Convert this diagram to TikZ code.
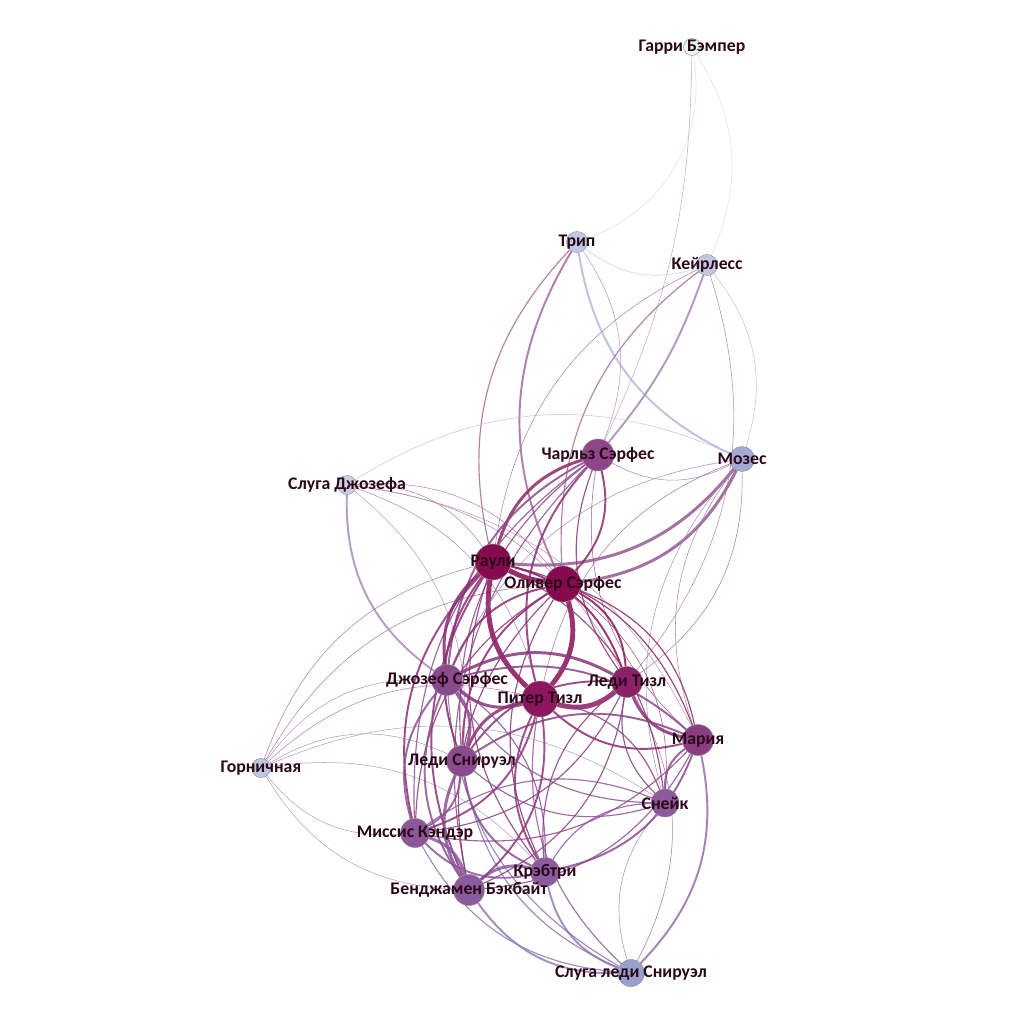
\documentclass[tikz,border=0pt]{standalone}
\usepackage{fontspec}
\setmainfont{Carlito}
\usepackage{tikz}
\pgfdeclarelayer{edges}
\pgfsetlayers{edges,main}

\definecolor{labc}{HTML}{2A0818}
\definecolor{crau}{HTML}{880A4E}
\definecolor{coli}{HTML}{880A4E}
\definecolor{cpit}{HTML}{8E1660}
\definecolor{clt}{HTML}{8B2268}
\definecolor{ccharl}{HTML}{8E4688}
\definecolor{cmar}{HTML}{8C3C80}
\definecolor{cjoz}{HTML}{8A4A8E}
\definecolor{cls}{HTML}{8A4A8E}
\definecolor{cmk}{HTML}{8C5698}
\definecolor{cben}{HTML}{8C5A9E}
\definecolor{ckre}{HTML}{8C5A9E}
\definecolor{csne}{HTML}{8C5A9C}
\definecolor{cmoz}{HTML}{A4AAD6}
\definecolor{csls}{HTML}{98A0CE}
\definecolor{ctrip}{HTML}{C2C8E2}
\definecolor{ckeir}{HTML}{C2C8E2}
\definecolor{cslj}{HTML}{C8CEE6}
\definecolor{cgor}{HTML}{BEC6E2}
\definecolor{cgarri}{HTML}{E6F4F2}

\begin{document}
\begin{tikzpicture}[x=0.02cm,y=-0.02cm,
  dot/.style={circle,draw=black!45,line width=0.25pt,inner sep=0pt,minimum size=#1},
  lab/.style={font=\bfseries\fontsize{10.1}{12}\selectfont,text=labc,inner sep=0pt},
  every edge/.style={draw,bend right=28,draw opacity=0.85},
  w0/.style={line width=0.3pt},
  w1/.style={line width=0.65pt},
  w2/.style={line width=1.1pt},
  w3/.style={line width=1.7pt},
  w4/.style={line width=2.8pt}]

  \useasboundingbox (0,0) rectangle (1024,1024);

  \node[dot=0.34cm, fill=cgarri] (garri) at (692,47)  {};
  \node[dot=0.42cm, fill=ctrip]  (trip)  at (577,242) {};
  \node[dot=0.42cm, fill=ckeir]  (keir)  at (707,265) {};
  \node[dot=0.64cm, fill=ccharl] (charl) at (598,455) {};
  \node[dot=0.50cm, fill=cmoz]   (moz)   at (742,459) {};
  \node[dot=0.38cm, fill=cslj]   (slj)   at (347,485) {};
  \node[dot=0.72cm, fill=crau]   (rau)   at (493,562) {};
  \node[dot=0.72cm, fill=coli]   (oli)   at (563,584) {};
  \node[dot=0.62cm, fill=cjoz]   (joz)   at (447,680) {};
  \node[dot=0.72cm, fill=cpit]   (pit)   at (540,699) {};
  \node[dot=0.62cm, fill=clt]    (lt)    at (627,682) {};
  \node[dot=0.62cm, fill=cmar]   (mar)   at (698,740) {};
  \node[dot=0.62cm, fill=cls]    (ls)    at (462,761) {};
  \node[dot=0.38cm, fill=cgor]   (gor)   at (261,768) {};
  \node[dot=0.56cm, fill=csne]   (sne)   at (665,803) {};
  \node[dot=0.58cm, fill=cmk]    (mk)    at (415,833) {};
  \node[dot=0.58cm, fill=ckre]   (kre)   at (545,872) {};
  \node[dot=0.62cm, fill=cben]   (ben)   at (469,890) {};
  \node[dot=0.54cm, fill=csls]   (sls)   at (631,973) {};

  \begin{pgfonlayer}{edges}
  \fill[white] (0,0) rectangle (1024,1024);
  \path (trip)  edge[w0, bend right=40, draw=ctrip!50!cgarri] (garri)
        (keir)  edge[w0, draw=ckeir!50!cgarri] (garri)
        (charl) edge[w0, bend right=12, draw=ccharl!50!cgarri] (garri)
        (trip)  edge[w0, draw=ctrip!50!ckeir] (keir)
        (trip)  edge[w2, draw=ctrip!50!cmoz] (moz)
        (trip)  edge[w1, draw=ctrip!50!crau] (rau)
        (trip)  edge[w2, draw=ctrip!50!coli] (oli)
        (charl) edge[w0, draw=ccharl!50!ctrip] (trip)
        (moz)   edge[w0, draw=cmoz!50!ckeir] (keir)
        (charl) edge[w2, bend right=10, draw=ccharl!50!ckeir] (keir)
        (keir)  edge[w0, draw=ckeir!50!crau] (rau)
        (keir)  edge[w1, draw=ckeir!50!coli] (oli)
        (lt)    edge[w0, draw=clt!50!ckeir] (keir)
        (moz)   edge[w0, draw=cmoz!50!cslj] (slj)
        (rau)   edge[w3, draw=crau!50!cmoz] (moz)
        (oli)   edge[w3, draw=coli!50!cmoz] (moz)
        (charl) edge[w0, draw=ccharl!50!cmoz] (moz)
        (moz)   edge[w0, draw=cmoz!50!cmar] (mar)
        (moz)   edge[w0, draw=cmoz!50!csne] (sne)
        (lt)    edge[w0, draw=clt!50!cmoz] (moz)
        (moz)   edge[w0, draw=cmoz!50!cpit] (pit)
        (moz)   edge[w0, draw=cmoz!50!cjoz] (joz)
        (rau)   edge[w0, draw=crau!50!cslj] (slj)
        (oli)   edge[w0, draw=coli!50!cslj] (slj)
        (pit)   edge[w0, draw=cpit!50!cslj] (slj)
        (lt)    edge[w0, draw=clt!50!cslj] (slj)
        (ls)    edge[w0, draw=cls!50!cslj] (slj)
        (mar)   edge[w0, draw=cmar!50!cslj] (slj)
        (slj)   edge[w2, draw=cslj!50!cjoz] (joz)
        (rau)   edge[w0, draw=crau!50!cgor] (gor)
        (oli)   edge[w0, draw=coli!50!cgor] (gor)
        (joz)   edge[w0, draw=cjoz!50!cgor] (gor)
        (ls)    edge[w0, draw=cls!50!cgor] (gor)
        (pit)   edge[w0, draw=cpit!50!cgor] (gor)
        (sne)   edge[w0, draw=csne!50!cgor] (gor)
        (kre)   edge[w0, draw=ckre!50!cgor] (gor)
        (gor)   edge[w0, draw=cgor!50!cben] (ben)
        (gor)   edge[w0, draw=cgor!50!cmk] (mk)
        (sls)   edge[w2, draw=csls!50!cmar] (mar)
        (sne)   edge[w0, draw=csne!50!csls] (sls)
        (ben)   edge[w2, draw=cben!50!csls] (sls)
        (kre)   edge[w2, draw=ckre!50!csls] (sls)
        (mk)    edge[w1, draw=cmk!50!csls] (sls)
        (ls)    edge[w1, draw=cls!50!csls] (sls)
        (joz)   edge[w1, draw=cjoz!50!csls] (sls)
        (pit)   edge[w1, draw=cpit!50!csls] (sls)
        (sls)   edge[w0, draw=csls!50!clt] (lt);
  \path (rau)   edge[w4, bend right=10, draw=crau] (oli)
        (rau)   edge[w4, draw=crau!50!cpit] (pit)
        (pit)   edge[w4, draw=cpit!50!coli] (oli)
        (pit)   edge[w4, draw=cpit!50!clt] (lt)
        (charl) edge[w3, draw=ccharl!50!crau] (rau)
        (oli)   edge[w2, draw=coli!50!ccharl] (charl)
        (charl) edge[w2, draw=ccharl!50!cpit] (pit)
        (charl) edge[w2, draw=ccharl!50!cjoz] (joz)
        (charl) edge[w1, draw=ccharl!50!clt] (lt)
        (charl) edge[w1, draw=ccharl!50!cls] (ls)
        (charl) edge[w0, draw=ccharl!50!cmar] (mar)
        (charl) edge[w1, draw=ccharl!50!cmk] (mk)
        (charl) edge[w1, draw=ccharl!50!cben] (ben)
        (rau)   edge[w3, draw=crau!50!cjoz] (joz)
        (rau)   edge[w2, draw=crau!50!cls] (ls)
        (rau)   edge[w2, draw=crau!50!cmk] (mk)
        (rau)   edge[w2, draw=crau!50!cben] (ben)
        (rau)   edge[w1, draw=crau!50!ckre] (kre)
        (lt)    edge[w2, draw=clt!50!crau] (rau)
        (mar)   edge[w1, draw=cmar!50!crau] (rau)
        (sne)   edge[w1, draw=csne!50!crau] (rau)
        (oli)   edge[w2, draw=coli!50!cjoz] (joz)
        (oli)   edge[w2, draw=coli!50!cls] (ls)
        (lt)    edge[w2, draw=clt!50!coli] (oli)
        (mar)   edge[w1, draw=cmar!50!coli] (oli)
        (oli)   edge[w1, draw=coli!50!cmk] (mk)
        (oli)   edge[w1, draw=coli!50!ckre] (kre)
        (sne)   edge[w0, draw=csne!50!coli] (oli)
        (oli)   edge[w1, draw=coli!50!cben] (ben)
        (joz)   edge[w3, draw=cjoz!50!cpit] (pit)
        (lt)    edge[w3, draw=clt!50!cjoz] (joz)
        (mar)   edge[w2, draw=cmar!50!cjoz] (joz)
        (pit)   edge[w2, draw=cpit!50!cmar] (mar)
        (lt)    edge[w3, draw=clt!50!cmar] (mar)
        (pit)   edge[w3, draw=cpit!50!cls] (ls)
        (ls)    edge[w3, draw=cls!50!cjoz] (joz)
        (mk)    edge[w2, draw=cmk!50!cls] (ls)
        (ls)    edge[w3, draw=cls!50!cben] (ben)
        (ben)   edge[w3, draw=cben!50!cmk] (mk)
        (kre)   edge[w3, draw=ckre!50!cben] (ben)
        (mk)    edge[w2, draw=cmk!50!ckre] (kre)
        (ls)    edge[w2, draw=cls!50!ckre] (kre)
        (joz)   edge[w2, draw=cjoz!50!cmk] (mk)
        (joz)   edge[w2, draw=cjoz!50!cben] (ben)
        (kre)   edge[w1, draw=ckre!50!cjoz] (joz)
        (lt)    edge[w2, draw=clt!50!cls] (ls)
        (mar)   edge[w2, draw=cmar!50!cls] (ls)
        (joz)   edge[w1, draw=cjoz!50!csne] (sne)
        (ls)    edge[w1, draw=cls!50!csne] (sne)
        (sne)   edge[w1, draw=csne!50!cmk] (mk)
        (sne)   edge[w1, draw=csne!50!ckre] (kre)
        (sne)   edge[w1, draw=csne!50!cpit] (pit)
        (lt)    edge[w1, draw=clt!50!csne] (sne)
        (mar)   edge[w2, draw=cmar!50!csne] (sne)
        (kre)   edge[w2, draw=ckre!50!cmar] (mar)
        (lt)    edge[w1, draw=clt!50!ckre] (kre)
        (pit)   edge[w2, draw=cpit!50!ckre] (kre)
        (mk)    edge[w2, draw=cmk!50!cpit] (pit)
        (mk)    edge[w1, draw=cmk!50!clt] (lt)
        (ben)   edge[w2, draw=cben!50!cpit] (pit)
        (ben)   edge[w1, draw=cben!50!clt] (lt)
        (mk)    edge[w1, draw=cmk!50!cmar] (mar)
        (ben)   edge[w1, draw=cben!50!cmar] (mar);
  \end{pgfonlayer}

  \node[lab] at (garri) {Гарри Бэмпер};
  \node[lab] at (trip)  {Трип};
  \node[lab] at (keir)  {Кейрлесс};
  \node[lab] at (charl) {Чарльз Сэрфес};
  \node[lab] at (moz)   {Мозес};
  \node[lab] at (slj)   {Слуга Джозефа};
  \node[lab] at (rau)   {Раули};
  \node[lab] at (oli)   {Оливер Сэрфес};
  \node[lab] at (joz)   {Джозеф Сэрфес};
  \node[lab] at (pit)   {Питер Тизл};
  \node[lab] at (lt)    {Леди Тизл};
  \node[lab] at (mar)   {Мария};
  \node[lab] at (ls)    {Леди Снируэл};
  \node[lab] at (gor)   {Горничная};
  \node[lab] at (sne)   {Снейк};
  \node[lab] at (mk)    {Миссис Кэндэр};
  \node[lab] at (kre)   {Крэбтри};
  \node[lab] at (ben)   {Бенджамен Бэкбайт};
  \node[lab] at (sls)   {Слуга леди Снируэл};

\end{tikzpicture}
\end{document}
